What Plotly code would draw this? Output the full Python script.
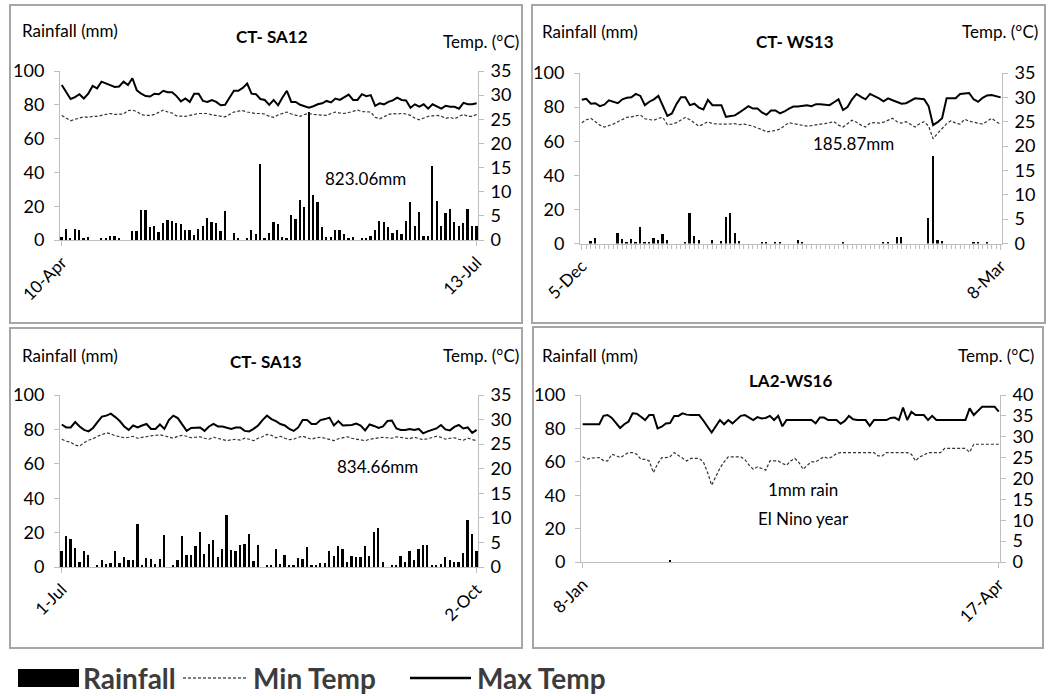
import plotly.graph_objects as go

W, H = 1050, 696
def px(x): return x / W
def py(y): return 1 - y / H

# ---------------- DATA ----------------
sa12_labels = ["10-Apr", "13-Jul"]
sa12_rain = [1.5,6.5,1,6.5,6,1,2,0,0,1,
             1,2.3,2.3,1,0,0,5.3,5.3,17.6,18,
             7.5,8.4,4.7,10.2,11.8,11,9.8,9.4,5.7,5.7,
             3.1,6.3,8.4,13,10.8,9.8,5.5,17,0,4,
             1,0,1,5.9,3.3,45,1,4,10.6,9.2,
             1.6,1,15,12.4,23.5,19.6,76,26.5,22.5,7.8,
             1.6,1.6,5.7,5.7,3.3,1,2,0,1,1,
             2.3,5.9,11.2,10.8,7.5,4.3,5.9,3.5,11.2,22.5,
             8.2,16.3,2.3,2.3,43.7,23,8.4,15.7,18.4,10.8,
             8.4,9.8,18.4,8.2,8.2]
sa12_tmax = [32.1,30.5,29.2,29.6,30.2,29.3,30.3,31.9,31.4,32.8,
             32.4,32.0,31.7,31.8,32.8,32.1,33.5,31.0,30.3,29.8,
             29.7,30.3,30.2,30.9,30.6,30.6,29.8,28.7,29.3,28.6,
             30.3,30.3,28.8,28.6,29.0,28.6,27.9,28.0,29.5,30.9,
             30.9,31.5,32.4,30.3,30.2,29.2,29.0,28.0,29.0,27.9,
             29.5,30.9,28.6,28.6,28.0,27.7,27.4,27.7,28.1,28.3,
             28.8,28.5,29.3,29.0,29.6,30.1,29.0,29.0,30.2,29.8,
             30.0,27.8,28.3,28.1,28.6,28.9,29.5,29.0,28.9,27.4,
             28.1,27.6,28.1,27.2,28.1,27.7,27.2,27.8,27.6,27.6,
             27.2,28.4,28.1,28.1,28.3]
sa12_tmin = [25.8,25.3,24.7,25.0,25.3,25.5,25.4,25.6,25.6,25.8,
             25.9,26.2,26.0,26.1,26.1,26.8,26.9,26.6,26.0,25.8,
             25.8,26.0,26.4,26.9,26.5,26.3,25.7,25.6,25.6,25.8,
             26.0,26.2,26.2,26.2,25.9,25.8,25.6,25.5,26.0,26.5,
             26.7,26.8,26.5,26.3,26.2,26.2,26.1,25.6,25.4,25.9,
             26.2,26.5,26.1,25.8,25.6,26.0,26.2,26.0,25.9,25.8,
             25.8,26.2,26.5,26.3,26.2,26.4,26.7,26.9,26.6,26.5,
             26.5,25.4,25.1,25.5,26.0,26.2,26.1,26.2,26.1,25.8,
             25.2,24.9,25.3,25.6,25.7,25.8,25.6,25.2,25.4,25.1,
             25.6,26.0,25.6,25.6,26.0]

ws13_labels = ["5-Dec", "8-Mar"]
ws13_rain = [0,0,1.4,3.5,0,0,0,0,6.2,2.7,
             1,2.7,1,9.4,1,1,3.1,2,5.3,2,
             0,0,0,1,18.1,4.5,2,0,0,2,
             0,1.2,15.6,17.8,6,1.6,0,0,0,0,
             0.8,0.8,0,0.7,0.7,0,0,0,1.8,0.8,
             0,0,0,0,0,0,0,0,0.6,0,
             0,0,0,0,0,0,0,0.7,0.7,0,
             3.7,4.1,0,0,0,0,0,15.2,51.1,2.3,
             1.6,0,0,0,0,0,0,0.6,0.6,0,
             0.6,0,0,0]
ws13_tmax = [29.5,29.7,28.7,28.8,28.2,28.5,29.4,29.1,28.8,29.6,
             29.9,30.0,30.7,30.3,28.4,29.1,29.6,30.3,28.1,26.2,
             26.7,28.6,30.0,30.0,28.4,28.7,27.9,27.5,29.5,28.4,
             28.4,28.4,26.0,26.2,26.3,26.9,27.5,28.2,27.7,27.7,
             26.9,26.4,27.3,27.3,26.7,27.1,27.7,28.1,28.1,28.2,
             28.4,28.2,28.6,28.6,28.5,28.4,29.0,29.6,27.4,28.0,
             29.6,30.7,30.1,29.6,30.7,30.3,29.8,29.2,29.8,29.4,
             29.0,28.7,28.8,29.3,29.8,29.7,29.6,28.2,24.3,24.9,
             25.7,29.8,29.8,29.8,30.7,30.8,30.9,29.6,29.1,29.9,
             30.4,30.5,30.2,30.0]
ws13_tmin = [24.8,25.4,25.7,25.0,24.3,23.9,24.2,24.5,25.0,25.5,
             25.9,26.0,26.2,26.4,25.6,25.4,25.3,25.7,25.9,24.4,
             24.5,24.8,25.3,25.9,25.4,24.7,24.1,24.5,25.0,24.6,
             24.5,24.5,24.5,24.6,24.6,24.4,24.5,24.3,24.1,23.7,
             23.4,22.9,23.0,23.2,23.5,24.1,24.8,24.6,24.4,24.2,
             24.1,24.2,24.4,24.5,24.6,24.8,25.0,24.3,23.9,24.6,
             25.3,24.9,24.3,23.9,24.7,24.8,24.7,24.9,25.3,25.7,
             25.0,24.7,25.0,24.5,23.9,24.6,25.0,24.1,21.5,22.6,
             23.6,24.6,25.2,24.7,24.5,25.5,25.1,24.9,24.6,24.5,
             25.1,25.7,25.0,24.5]

sa13_labels = ["1-Jul", "2-Oct"]
sa13_rain = [9.5,17.9,16.1,11.3,2.9,9.1,6.8,0,0.6,3.9,
             1.6,2.3,9.5,2.3,6.0,3.9,3.9,24.9,0.6,5.2,
             4.9,1.9,4.9,18.6,0,0.6,3.9,17.9,7.2,6.8,
             12.2,20.2,7.4,13.2,15.5,6.0,10.7,30.3,9.7,9.1,
             12.8,13.2,19.0,3.5,12.8,0,0.6,0.6,10.3,1.9,
             7.2,1.4,0.6,5.2,4.9,11.8,1.0,1.0,2.3,2.3,
             9.1,6.4,12.2,10.3,2.9,6.4,6.0,5.6,12.2,6.4,
             20.2,22.9,3.1,0,1.4,1.4,6.4,2.9,9.1,3.9,
             10.7,12.8,12.8,0.6,0.6,1.7,6.0,3.9,2.7,2.7,
             8.2,27.2,19.4,9.1]
sa13_tmax = [29.0,28.4,28.4,29.5,28.6,27.9,27.6,28.3,29.5,30.6,
             30.8,31.2,30.5,29.7,28.6,27.9,28.8,28.4,28.8,29.1,
             28.1,28.1,29.0,28.1,29.9,30.8,30.3,29.1,27.7,28.3,
             28.4,28.4,27.7,28.6,29.1,28.6,28.6,28.4,28.1,28.4,
             28.4,27.7,27.6,28.1,28.8,29.9,30.8,30.1,29.7,29.1,
             28.8,28.1,27.7,28.4,29.9,29.9,29.1,29.1,29.9,30.1,
             30.4,28.8,29.7,28.8,28.9,28.9,29.2,28.8,27.8,29.0,
             28.7,28.3,28.6,29.7,29.8,28.2,27.9,27.9,28.1,27.9,
             28.1,27.2,27.6,27.9,28.2,28.9,28.0,27.8,28.5,28.9,
             28.2,28.4,27.3,27.9]
sa13_tmin = [26.0,25.6,25.4,24.8,24.6,25.3,25.8,26.1,26.6,27.0,
             27.3,27.1,26.7,26.5,26.3,26.4,26.6,26.2,26.4,26.6,
             26.7,26.8,26.9,26.7,26.5,26.2,26.6,26.8,26.6,26.3,
             26.4,26.5,26.2,26.0,26.4,26.2,25.9,25.7,25.9,26.0,
             25.8,26.2,26.0,25.7,26.2,26.5,27.0,26.8,26.3,26.6,
             26.2,25.9,26.0,26.4,26.6,26.3,26.0,26.3,26.4,26.2,
             26.0,25.7,26.1,26.3,26.5,26.2,26.0,25.8,25.7,26.0,
             26.1,26.3,26.4,26.3,26.2,26.5,26.4,26.3,26.1,26.4,
             26.2,25.9,26.1,26.3,26.6,26.4,26.0,26.2,26.3,26.0,
             25.8,26.2,26.0,25.7]

ws16_labels = ["8-Jan", "17-Apr"]
ws16_rain = [0]*21 + [1] + [0]*79
ws16_tmax = [33.0,33.0,33.0,33.0,33.0,35.0,35.2,34.5,33.2,32.1,
             33.0,33.6,35.6,35.5,34.8,34.0,35.2,35.2,32.0,32.4,
             33.2,33.3,35.0,35.0,35.6,35.3,35.2,35.2,35.2,33.9,
             32.5,31.0,32.5,34.0,33.0,34.0,33.2,34.0,35.0,35.2,
             34.5,34.0,34.7,34.4,34.5,35.0,34.0,35.0,32.5,34.0,
             34.0,34.0,34.0,34.0,34.0,34.0,33.2,34.6,34.6,34.0,
             34.0,34.0,33.1,33.8,35.0,34.2,34.0,34.0,34.0,32.6,
             34.0,34.0,34.0,34.0,34.5,34.6,34.0,37.0,34.0,36.0,
             35.2,35.2,35.2,34.0,35.0,34.0,34.0,34.0,34.0,34.0,
             34.0,34.0,34.0,36.8,35.2,36.2,37.2,37.2,37.2,37.2,
             36.0]
ws16_tmin = [25.2,24.6,24.9,25.0,25.0,24.3,24.2,25.8,25.5,25.0,
             25.6,26.2,26.2,25.8,24.6,24.6,24.2,21.4,23.5,25.0,
             25.0,25.2,26.2,25.6,25.0,24.2,24.8,24.8,24.8,24.0,
             21.5,18.4,20.5,22.5,24.0,25.2,25.2,25.2,25.2,24.5,
             23.2,22.2,22.8,22.4,22.0,24.2,24.2,24.2,23.6,23.2,
             24.2,24.8,23.8,22.2,23.2,24.0,24.0,24.6,25.2,24.8,
             25.2,26.0,26.2,26.2,26.2,26.2,26.2,26.2,26.2,26.2,
             26.2,25.4,25.4,26.2,26.2,26.2,26.2,26.2,26.2,25.8,
             24.2,25.2,25.6,26.2,26.2,26.2,26.2,27.2,27.2,27.2,
             27.2,27.2,27.2,26.3,28.2,28.2,28.2,28.2,28.2,28.2,
             28.2]

for a, b, c in [(sa12_rain, sa12_tmax, sa12_tmin), (ws13_rain, ws13_tmax, ws13_tmin),
                (sa13_rain, sa13_tmax, sa13_tmin), (ws16_rain, ws16_tmax, ws16_tmin)]:
    assert len(a) == len(b) == len(c), (len(a), len(b), len(c))

FONT = "Lato, 'Open Sans', sans-serif"
AXC = "#bfbfbf"
TICK = 18

panels = [
    dict(title="CT- SA12", labels=sa12_labels, rain=sa12_rain, tmax=sa12_tmax, tmin=sa12_tmin,
         xd=(60, 478), yd=(71, 240), trange=35, minor=False,
         box=(10, 5, 522, 323), rl=(20, 30), tl=(521, 42), tt=(272, 37)),
    dict(title="CT- WS13", labels=ws13_labels, rain=ws13_rain, tmax=ws13_tmax, tmin=ws13_tmin,
         xd=(580, 1002), yd=(73, 243.5), trange=35, minor=True,
         box=(532, 5, 1045, 323), rl=(540, 32), tl=(1040, 32), tt=(795, 42)),
    dict(title="CT- SA13", labels=sa13_labels, rain=sa13_rain, tmax=sa13_tmax, tmin=sa13_tmin,
         xd=(60, 478), yd=(395, 567), trange=35, minor=False,
         box=(10, 328, 522, 648), rl=(20, 355), tl=(521, 355), tt=(266, 362)),
    dict(title="LA2-WS16", labels=ws16_labels, rain=ws16_rain, tmax=ws16_tmax, tmin=ws16_tmin,
         xd=(581, 1000), yd=(395, 562), trange=40, minor=False,
         box=(533, 327, 1043, 648), rl=(540, 355), tl=(1036, 355), tt=(790, 380)),
]

fig = go.Figure()
layout = {}
annotations = []
shapes = []

for k, p in enumerate(panels, start=1):
    n = len(p["rain"])
    days = list(range(n))
    xid = "x" if k == 1 else f"x{k}"
    yr = 2 * k - 1
    yt = 2 * k
    yrid = "y" if yr == 1 else f"y{yr}"
    ytid = f"y{yt}"
    fig.add_trace(go.Bar(x=days, y=p["rain"], xaxis=xid, yaxis=yrid, width=0.4,
                         marker=dict(color="black", line=dict(width=0)), showlegend=False))
    fig.add_trace(go.Scatter(x=days, y=p["tmin"], xaxis=xid, yaxis=ytid, mode="lines",
                             line=dict(color="#333333", width=1.2, dash="3px,2px"), showlegend=False))
    fig.add_trace(go.Scatter(x=days, y=p["tmax"], xaxis=xid, yaxis=ytid, mode="lines",
                             line=dict(color="black", width=2), showlegend=False))

    xdom = [px(p["xd"][0]), px(p["xd"][1])]
    ydom = [py(p["yd"][1]), py(p["yd"][0])]
    xa = dict(domain=xdom, anchor=yrid, range=[-0.4, n - 1 + 0.3], automargin=False,
              showline=True, linecolor=AXC, linewidth=1, showgrid=False, zeroline=False,
              tickmode="array", tickvals=[0, n - 1], ticktext=p["labels"], tickangle=-45,
              ticks="outside", ticklen=5, tickcolor=AXC,
              tickfont=dict(family=FONT, size=17, color="black"))
    if p["minor"]:
        xa["minor"] = dict(ticks="outside", ticklen=4, tickcolor=AXC, dtick=1, tick0=0)
    layout["xaxis" if k == 1 else f"xaxis{k}"] = xa
    layout["yaxis" if yr == 1 else f"yaxis{yr}"] = dict(
        domain=ydom, anchor=xid, range=[0, 100], dtick=20, tick0=0, automargin=False,
        showline=True, linecolor=AXC, linewidth=1, showgrid=False, zeroline=False,
        ticks="outside", ticklen=5, tickcolor=AXC, ticklabelstandoff=6,
        tickfont=dict(family=FONT, size=TICK, color="black"))
    layout[f"yaxis{yt}"] = dict(
        overlaying=yrid, side="right", anchor=xid, range=[0, p["trange"]], dtick=5, tick0=0,
        automargin=False,
        showline=True, linecolor=AXC, linewidth=1, showgrid=False, zeroline=False,
        ticks="outside", ticklen=5, tickcolor=AXC, ticklabelstandoff=3,
        tickfont=dict(family=FONT, size=TICK, color="black"))

    x0, y0, x1, y1 = p["box"]
    shapes.append(dict(type="rect", xref="paper", yref="paper",
                       x0=px(x0), x1=px(x1), y0=py(y1), y1=py(y0),
                       line=dict(color="#a6a6a6", width=2), layer="below"))
    annotations.append(dict(xref="paper", yref="paper", x=px(p["rl"][0]), y=py(p["rl"][1]),
                            text="Rainfall (mm)", showarrow=False, xanchor="left", yanchor="middle",
                            font=dict(family=FONT, size=17, color="black")))
    annotations.append(dict(xref="paper", yref="paper", x=px(p["tl"][0]), y=py(p["tl"][1]),
                            text="Temp. (°C)", showarrow=False, xanchor="right", yanchor="middle",
                            font=dict(family=FONT, size=17, color="black")))
    annotations.append(dict(xref="paper", yref="paper", x=px(p["tt"][0]), y=py(p["tt"][1]),
                            text="<b>" + p["title"] + "</b>", showarrow=False, xanchor="center",
                            yanchor="middle", font=dict(family=FONT, size=17, color="black")))

notes = [("823.06mm", 365, 178), ("185.87mm", 853, 143), ("834.66mm", 377, 466),
         ("1mm rain", 803, 489), ("El Nino year", 803, 518)]
for t, x, y in notes:
    annotations.append(dict(xref="paper", yref="paper", x=px(x), y=py(y), text=t, showarrow=False,
                            xanchor="center", yanchor="middle",
                            font=dict(family=FONT, size=17, color="black")))

# legend (drawn manually)
LEGC = "#3c3c3c"
shapes.append(dict(type="rect", xref="paper", yref="paper", x0=px(18), x1=px(79),
                   y0=py(687), y1=py(669), fillcolor="black", line=dict(width=0)))
shapes.append(dict(type="line", xref="paper", yref="paper", x0=px(183), x1=px(247),
                   y0=py(678), y1=py(678), line=dict(color="#555555", width=1.3, dash="3px,2px")))
shapes.append(dict(type="line", xref="paper", yref="paper", x0=px(410), x1=px(471),
                   y0=py(678), y1=py(678), line=dict(color="black", width=2.5)))
for t, x in [("Rainfall", 81), ("Min Temp", 251), ("Max Temp", 475)]:
    annotations.append(dict(xref="paper", yref="paper", x=px(x), y=py(678), text="<b>" + t + "</b>",
                            showarrow=False, xanchor="left", yanchor="middle",
                            font=dict(family=FONT, size=28, color=LEGC)))

fig.update_layout(width=W, height=H, margin=dict(l=0, r=0, t=0, b=0, autoexpand=False),
                  paper_bgcolor="white", plot_bgcolor="rgba(0,0,0,0)",
                  showlegend=False, bargap=0, annotations=annotations, shapes=shapes,
                  **layout)
fig.write_html("out.html")
